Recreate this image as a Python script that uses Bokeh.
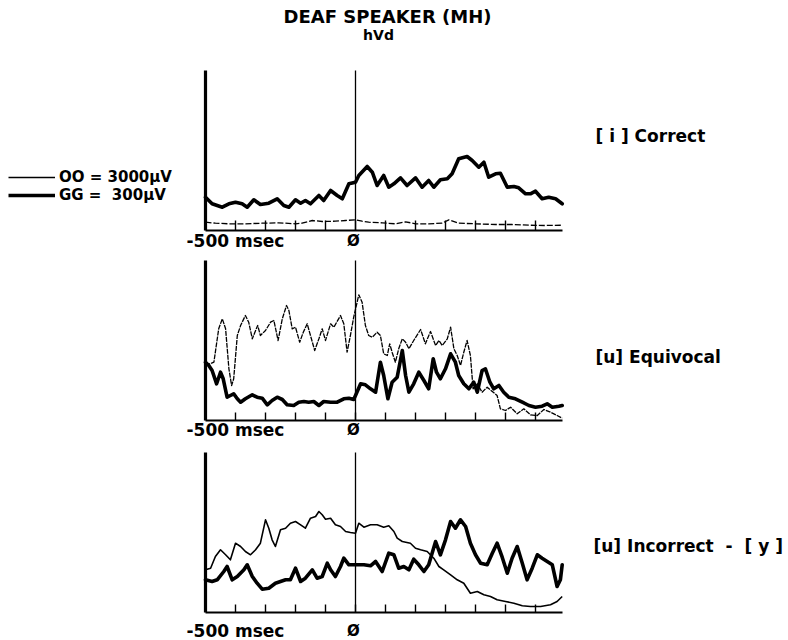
from bokeh.plotting import figure
from bokeh.models import (Range1d, LinearAxis, FixedTicker, Label,
                          Legend, LegendItem)
from bokeh.layouts import column
from bokeh.embed import file_html
from bokeh.resources import INLINE

# ---------------- data (time in msec, amplitude in arbitrary units) ----------------
TICKS = [-400, -300, -200, -100, 0, 100, 200, 300, 400, 500, 600]
X_START, X_END = -500, 690
Y_START, Y_END = 0, 160

TITLE = "DEAF SPEAKER (MH)"
SUBTITLE = "hVd"
LEGEND_OO = "OO = 3000µV"
LEGEND_GG = "GG = \u00a0300µV"
PANEL_LABELS = ["[ i ] Correct", "[u] Equivocal", "[u] Incorrect \u00a0-\u00a0 [ y ]"]

# Panel 1: [i] Correct
P1_GG_T = [-500, -478, -444, -422, -400, -378, -361, -339, -317, -289, -261, -239, -222, -200, -183,
           -167, -150, -122, -106, -83, -61, -44, -22, 0, 11, 39, 56, 72, 94, 111, 128, 150, 172, 200,
           222, 244, 261, 283, 306, 322, 344, 372, 389, 411, 428, 444, 467, 483, 506, 528, 544, 567,
           583, 600, 622, 644, 667, 689]
P1_GG_V = [33.3, 26.7, 23.3, 26.7, 28.3, 26.7, 23.3, 30.7, 26, 27.3, 31.7, 25, 23.3, 30.7, 27.3,
           30, 26.7, 35, 30, 40, 35, 31.7, 46.7, 48.3, 55, 64, 58.3, 45, 55, 43.3, 46.7, 52.7, 45,
           52.7, 43.3, 50, 43.3, 50.7, 51.7, 56.7, 71.7, 74, 70, 63.3, 68.3, 53.3, 56.7, 57.3, 43.3,
           44, 42.7, 36.7, 36.7, 39.3, 31.7, 33.3, 31.7, 26.7]
P1_OO_T = [-500, -467, -422, -367, -311, -256, -200, -178, -144, -111, -67, -33, 0, 22, 44, 89,
           133, 167, 200, 244, 289, 311, 344, 400, 467, 522, 578, 633, 689]
P1_OO_V = [8.3, 7.3, 6.7, 6.7, 7.3, 7.7, 6.7, 7.3, 10, 9, 9.3, 10, 10.7, 9.3, 8.3, 7.7, 6.7, 8.7,
           6.7, 6.7, 7.3, 10.7, 7.3, 6.7, 6, 6, 5.3, 5, 5.3]

# Panel 2: [u] Equivocal
P2_GG_T = [-500, -489, -478, -463, -450, -441, -428, -417, -406, -394, -383, -367, -344, -328, -311,
           -294, -278, -261, -244, -228, -206, -189, -172, -156, -139, -122, -106, -83, -61, -39, -22,
           -6, 0, 17, 33, 50, 67, 83, 94, 108, 122, 139, 156, 167, 178, 194, 211, 228, 244, 259, 270,
           283, 300, 317, 333, 344, 361, 378, 394, 406, 422, 433, 448, 461, 478, 494, 511, 533, 556,
           578, 600, 622, 639, 656, 678, 689]
P2_GG_V = [58.3, 55, 50, 36.7, 48.3, 41.7, 23.3, 25, 26.7, 21.7, 18.3, 21.7, 25.7, 23.3, 22.3,
           15.7, 20, 23.3, 21, 15.7, 15, 18.3, 19, 18.3, 19, 15, 19, 18.3, 18.3, 21.7, 22.3, 21,
           25, 36.7, 35.7, 31.7, 28.3, 58.3, 45, 21.7, 38.3, 43.3, 70, 45, 28.3, 36.7, 48.3, 40,
           31.7, 61.7, 48.3, 41.7, 51.7, 66.7, 58.3, 45, 36.7, 31.7, 38.3, 28.3, 50, 51.7, 38.3,
           31.7, 35, 28.3, 23.3, 21.7, 18.3, 15, 13.3, 14.3, 16.7, 13.3, 14.3, 15]
P2_OO_T = [-500, -472, -456, -444, -433, -422, -413, -406, -394, -383, -367, -356, -344, -333, -326,
           -317, -300, -283, -272, -258, -244, -230, -222, -211, -200, -186, -174, -161, -147, -136,
           -122, -111, -100, -83, -72, -50, -39, -28, -17, -6, 11, 22, 33, 44, 56, 72, 83, 94, 106,
           114, 122, 133, 144, 156, 167, 178, 194, 217, 233, 250, 267, 278, 289, 306, 317, 328, 339,
           350, 361, 372, 383, 392, 406, 422, 439, 456, 472, 483, 500, 517, 539, 561, 583, 606, 628,
           650, 672, 689]
P2_OO_V = [55, 58.3, 91.7, 101.7, 91.7, 51.7, 35, 41.7, 85, 95, 105, 98.3, 81.7, 90, 95, 85, 90,
           98.3, 100, 80, 101.7, 115, 110, 91.7, 93.3, 78.3, 88.3, 96.7, 81.7, 70, 81.7, 91.7, 80,
           96.7, 93.3, 105, 96.7, 68.3, 85, 103.3, 125.7, 118.3, 95, 85, 83.3, 88.3, 85, 66.7, 65,
           76.7, 68.3, 58.3, 71.7, 81.7, 78.3, 71.7, 80, 91, 76.7, 89, 75, 80, 75, 81.7, 93.3, 71.7,
           65, 55, 68.3, 80, 65, 31.7, 36.7, 28.3, 33.3, 29, 25, 11.7, 10, 13.3, 6.7, 11.7, 5.7, 5,
           11, 8.3, 5, 2.3]

# Panel 3: [u] Incorrect - [y]
P3_GG_T = [-500, -478, -461, -439, -428, -411, -394, -372, -361, -344, -328, -311, -289, -267, -250,
           -233, -217, -200, -183, -167, -144, -128, -111, -94, -83, -67, -50, -39, -22, 0, 28, 50,
           67, 89, 111, 128, 144, 161, 178, 194, 211, 228, 244, 267, 283, 300, 317, 333, 350, 367,
           383, 400, 417, 439, 456, 472, 489, 506, 522, 539, 556, 572, 589, 606, 622, 639, 656, 672,
           683, 689]
P3_GG_V = [32.7, 31, 32.7, 41, 46, 32.7, 36, 42.7, 47.7, 36, 29.3, 23.3, 24.3, 29.3, 31, 32.7,
           32.7, 44.3, 31, 34.3, 42.7, 34.3, 36, 49.3, 42.7, 36, 46, 54.3, 47.7, 47.7, 47.7, 46.7,
           51, 41, 59.3, 57.7, 44.3, 46, 42.7, 53.3, 47.7, 41, 47.7, 71, 57.7, 72.7, 91, 84.3, 92.7,
           86, 69.3, 57.7, 49.3, 47.7, 59.3, 69.3, 55.3, 39.3, 54.3, 66, 49.3, 32.7, 44.3, 57.7,
           54.3, 51, 47.7, 26, 32.7, 47.7]
P3_OO_T = [-500, -483, -467, -450, -433, -417, -400, -383, -367, -350, -333, -317, -300, -289, -278,
           -267, -250, -233, -217, -200, -183, -167, -150, -133, -122, -111, -100, -83, -67, -50,
           -33, -17, 0, 11, 28, 50, 72, 94, 111, 128, 139, 156, 183, 200, 217, 239, 261, 278, 294,
           317, 339, 361, 383, 406, 428, 450, 472, 500, 528, 556, 583, 617, 650, 672, 689]
P3_OO_V = [42.7, 44.3, 56, 62.7, 57.7, 52.7, 69.3, 66, 61, 57.7, 62.7, 69.3, 92.7, 84.3, 72.7, 66,
           82.7, 84.3, 89.3, 91, 87.7, 84.3, 94.3, 96, 101, 97.7, 93.3, 94.3, 87.7, 86, 81, 80, 79.3,
           89.3, 85.3, 87.7, 87.7, 85.3, 86.7, 81, 74.3, 71, 69.3, 64.3, 62.7, 61, 54.3, 46, 42.7,
           37.7, 32.7, 29.3, 19.3, 21, 17.7, 16, 12.7, 11, 9.3, 6.7, 6, 6, 7.7, 11, 16]

# ---------------- styling / layout ----------------
FONT = "DejaVu Sans"
INK = "black"
THICK = 3.6
THIN = 1.3
W = 788
NAN = float("nan")


def px_ms(px):
    """Reference-pixel x position -> msec on the panels' shared time scale."""
    return (px - 355) * 10 / 3


def make_panel(height, below, above, tick_len):
    # the frame covers the whole canvas; axes are drawn at fixed data locations
    p = figure(width=W, height=height,
               x_range=Range1d(px_ms(0), px_ms(W)),
               y_range=Range1d(-below, above),
               x_axis_type=None, y_axis_type=None,
               output_backend="svg", toolbar_location=None, min_border=0)
    p.outline_line_color = None
    p.background_fill_color = "white"
    p.border_fill_color = "white"
    xa = LinearAxis(fixed_location=Y_START, bounds=(X_START, X_END),
                    ticker=FixedTicker(ticks=TICKS, minor_ticks=[]),
                    major_tick_in=tick_len, major_tick_out=0,
                    minor_tick_in=0, minor_tick_out=0,
                    major_label_text_color=None, major_label_text_font_size="0px",
                    major_label_standoff=0,
                    axis_line_width=1.8, axis_line_color=INK,
                    major_tick_line_width=1.4, major_tick_line_color=INK)
    p.add_layout(xa, "below")
    for loc, lw in [(X_START, 3.2), (0, 1.3)]:
        ya = LinearAxis(fixed_location=loc, bounds=(Y_START, Y_END),
                        ticker=FixedTicker(ticks=[], minor_ticks=[]),
                        major_tick_in=0, major_tick_out=0, minor_tick_in=0, minor_tick_out=0,
                        major_label_text_color=None, major_label_text_font_size="0px",
                        major_label_standoff=0,
                        axis_line_width=lw, axis_line_color=INK)
        p.add_layout(ya, "left")
    return p


def add_text(p, x, y, text, size, align="left", style="bold"):
    p.add_layout(Label(x=x, y=y, text=text, text_font=FONT, text_font_style=style,
                       text_font_size=size, text_align=align, text_baseline="middle",
                       text_color=INK))


def axis_labels(p, y):
    add_text(p, px_ms(186), y, "-500 msec", "17px")
    add_text(p, px_ms(353), y, "Ø", "15px", align="center")


# Panel 1
p1 = make_panel(252, 22, 230, 10)
p1.line(P1_OO_T, P1_OO_V, line_color=INK, line_width=THIN, line_dash="6 2", line_join="round")
p1.line(P1_GG_T, P1_GG_V, line_color=INK, line_width=THICK, line_join="round", line_cap="round")
axis_labels(p1, -10.5)
add_text(p1, px_ms(387), 214, TITLE, "18px", align="center")
add_text(p1, px_ms(378), 196, SUBTITLE, "14px", align="center")
add_text(p1, px_ms(595), 95, PANEL_LABELS[0], "17px")

# legend samples: renderers holding a single blank point, so nothing shows in the panel
thin_proxy = p1.line(x=[NAN], y=[NAN], line_color=INK, line_width=THIN)
thick_proxy = p1.line(x=[NAN], y=[NAN], line_color=INK, line_width=THICK)
for label, rend, vy in [(LEGEND_OO, thin_proxy, 66), (LEGEND_GG, thick_proxy, 48)]:
    lg = Legend(items=[LegendItem(label=label, renderers=[rend])],
                location=(8, vy), orientation="vertical",
                padding=0, margin=0, spacing=0,
                glyph_width=47, glyph_height=14, label_height=14, label_standoff=4,
                border_line_color=None, background_fill_alpha=0,
                label_text_font=FONT, label_text_font_style="bold",
                label_text_font_size="15px", label_text_color=INK)
    p1.add_layout(lg)

# Panel 2
p2 = make_panel(190, 22, 168, 8)
p2.line(P2_OO_T, P2_OO_V, line_color=INK, line_width=THIN, line_dash="5 1", line_join="round")
p2.line(P2_GG_T, P2_GG_V, line_color=INK, line_width=THICK, line_join="round", line_cap="round")
axis_labels(p2, -9)
add_text(p2, px_ms(595), 64, PANEL_LABELS[1], "17px")

# Panel 3
p3 = make_panel(198, 28, 170, 8)
p3.line(P3_OO_T, P3_OO_V, line_color=INK, line_width=THIN + 0.3, line_join="round")
p3.line(P3_GG_T, P3_GG_V, line_color=INK, line_width=THICK, line_join="round", line_cap="round")
axis_labels(p3, -18)
add_text(p3, px_ms(593), 67, PANEL_LABELS[2], "17px")

layout = column(p1, p2, p3, spacing=0)
open("out.html", "w").write(file_html(layout, INLINE))
